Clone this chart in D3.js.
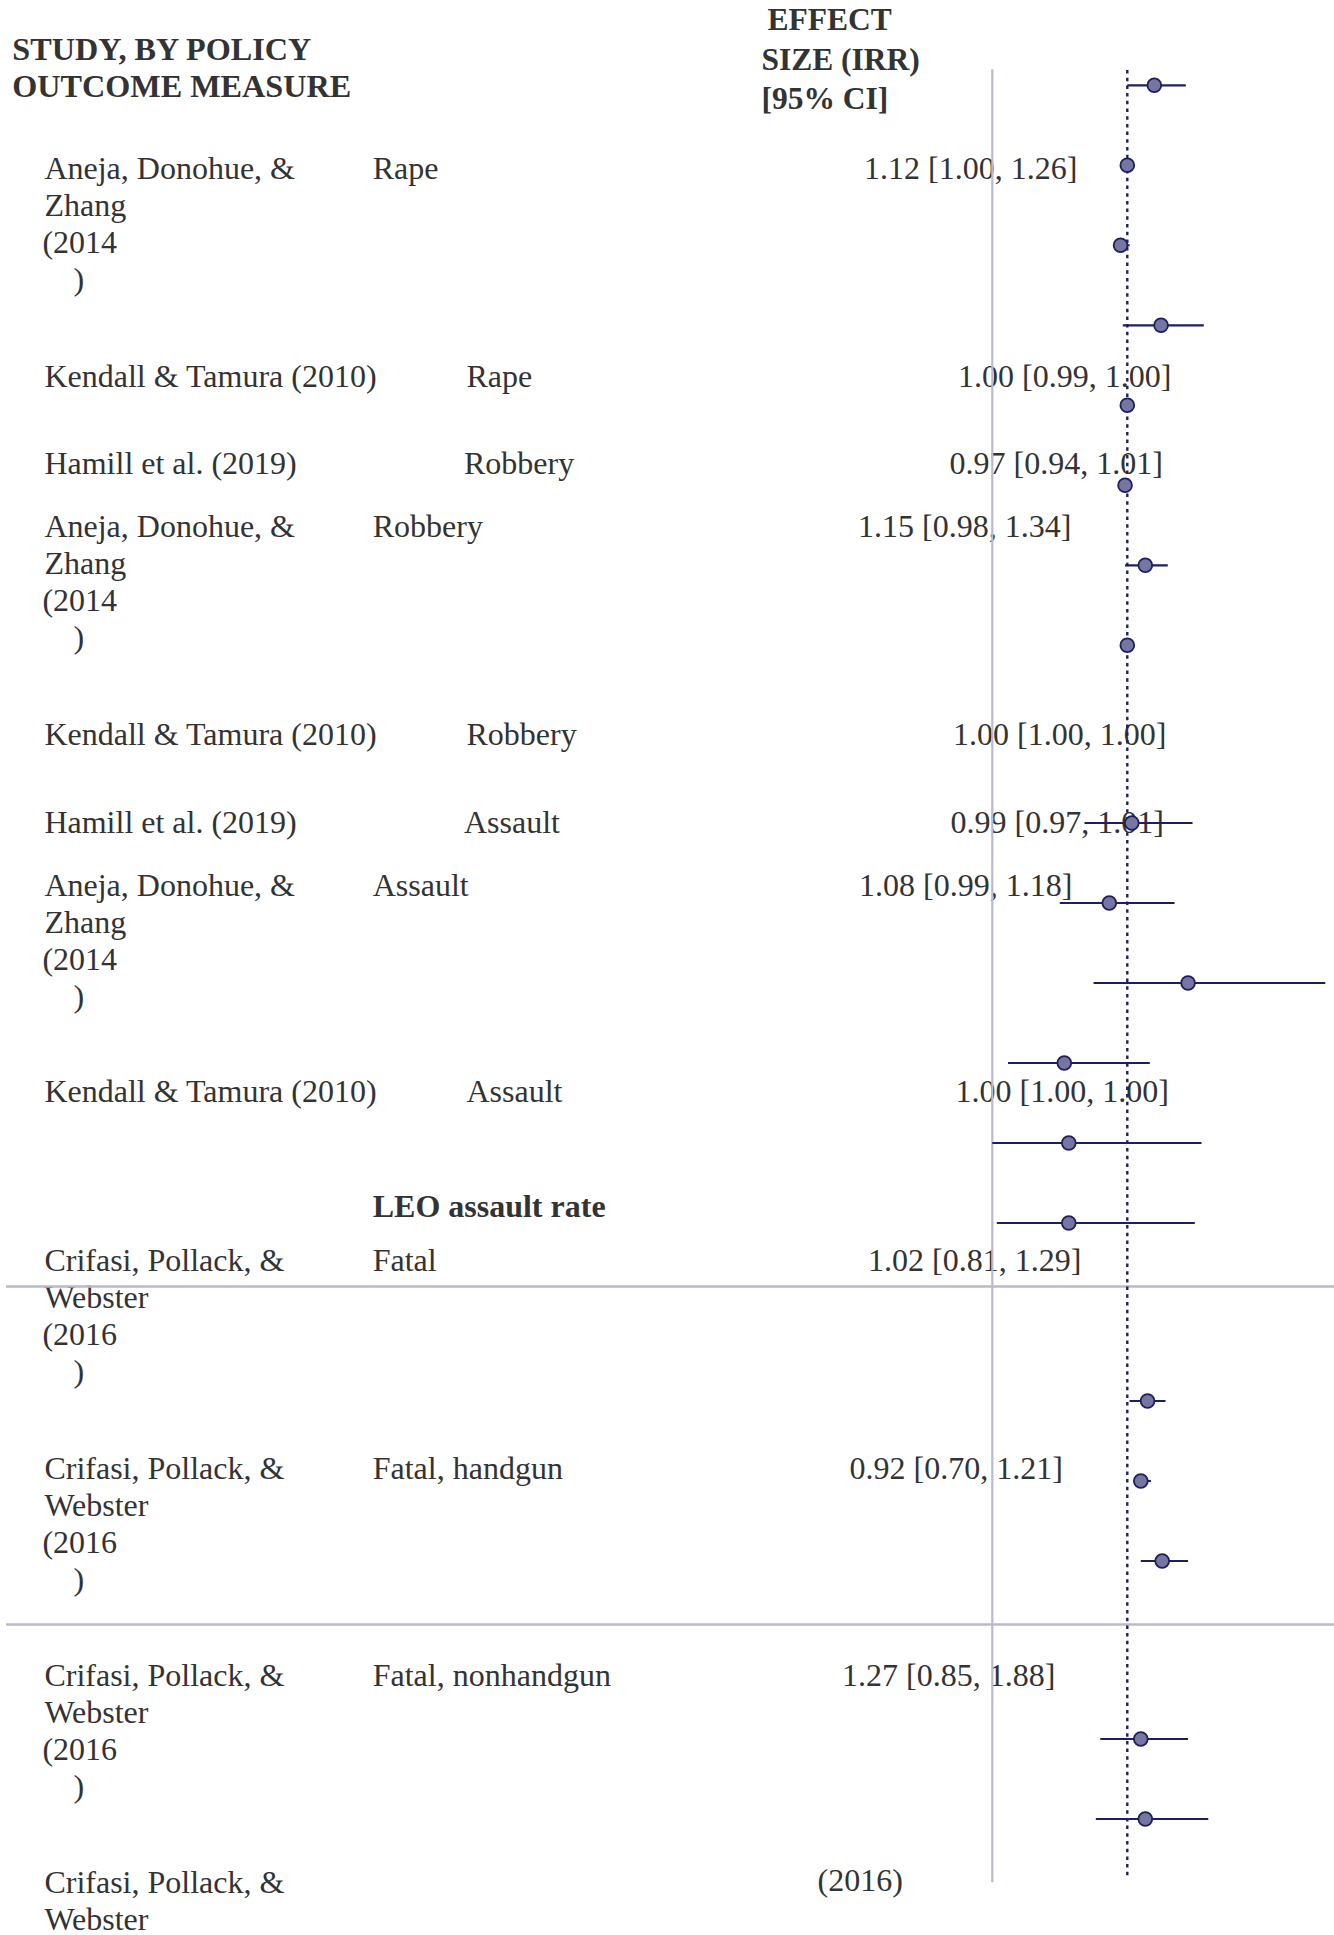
<!DOCTYPE html>
<html>
<head>
<meta charset="utf-8">
<title>Forest plot – effect sizes by policy outcome</title>
<script src="https://cdn.jsdelivr.net/npm/d3@7"></script>
<style>
  html, body { margin: 0; padding: 0; background: #ffffff; }
  svg { display: block; }
  text { font-family: "Liberation Serif", "Times New Roman", serif; fill: #333333; }
</style>
</head>
<body>
<script>
// ---- Data ----------------------------------------------------------------
// Study rows with a printed effect estimate (one per text row)
const rowStudies = [
  "Aneja, Donohue, & Zhang (2014)",
  "Kendall & Tamura (2010)",
  "Hamill et al. (2019)",
  "Aneja, Donohue, & Zhang (2014)",
  "Kendall & Tamura (2010)",
  "Hamill et al. (2019)",
  "Aneja, Donohue, & Zhang (2014)",
  "Kendall & Tamura (2010)",
  "Crifasi, Pollack, & Webster (2016)",
  "Crifasi, Pollack, & Webster (2016)",
  "Crifasi, Pollack, & Webster (2016)",
  "Crifasi, Pollack, & Webster (2016)"
];
const rowOutcomes = [
  "Rape", "Rape", "Robbery", "Robbery", "Robbery", "Assault",
  "Assault", "Assault", "Fatal", "Fatal, handgun", "Fatal, nonhandgun", ""
];
const sectionTitles = ["LEO assault rate"];

// Incidence rate ratios and 95% confidence limits, one entry per marker
const estimate = [1.12, 1.00, 0.97, 1.15, 1.00, 0.99, 1.08, 1.00, 1.02, 0.92, 1.27,
                  0.72, 0.74, 0.74, 1.09, 1.06, 1.155, 1.06, 1.08];
const ciLower  = [1.00, 0.99, 0.94, 0.98, 1.00, 0.97, 0.99, 1.00, 0.81, 0.70, 0.85,
                  0.47, 0.40, 0.42, 1.01, 1.04, 1.06, 0.88, 0.86];
const ciUpper  = [1.26, 1.00, 1.01, 1.34, 1.00, 1.01, 1.18, 1.00, 1.29, 1.21, 1.88,
                  1.10, 1.33, 1.30, 1.17, 1.105, 1.27, 1.27, 1.36];
const labelledCount = 11;          // markers whose value is printed in the table
const nullValue = 1;               // IRR of no effect
const xDomain = [0.4, 1.9];

// ---- Layout ----------------------------------------------------------------
const W = 1334, H = 1935;
const fontSize = 32;
const lineGap = 37;

// baselines and column starts for each table row
const textLayout = [
  { y: 179.3, ox: 372.7, vx: 864.0 },
  { y: 386.7, ox: 466.5, vx: 958.0 },
  { y: 474.0, ox: 464.0, vx: 949.5 },
  { y: 537.0, ox: 372.7, vx: 858.0 },
  { y: 744.5, ox: 466.5, vx: 953.0 },
  { y: 833.0, ox: 464.0, vx: 950.5 },
  { y: 896.0, ox: 372.7, vx: 859.0 },
  { y: 1102.0, ox: 466.5, vx: 955.5 },
  { y: 1271.0, ox: 372.7, vx: 868.0 },
  { y: 1479.0, ox: 372.7, vx: 849.5 },
  { y: 1686.0, ox: 372.7, vx: 842.0 },
  { y: 1893.0, ox: 372.7, vx: 817.5 }
];
// marker panels: first marker index and vertical start of each panel
const panels = [
  { first: 0, top: 85.3 },
  { first: 8, top: 823.0 },
  { first: 14, top: 1401.0 },
  { first: 17, top: 1739.0 }
];
const rowStep = 80;

const svg = d3.select("body").append("svg")
  .attr("width", W).attr("height", H)
  .attr("viewBox", `0 0 ${W} ${H}`);

const x = d3.scaleLinear().domain(xDomain).range([992.3, 1329.8]);
const step = d3.scaleLinear().domain([0, 1]).range([0, rowStep]);
function y(i) {
  let p = panels[0];
  panels.forEach(q => { if (i >= q.first) p = q; });
  return p.top + step(i - p.first);
}

const fmt = d3.format(".2f");
const lineColor = "#b9b9cf";
const navy = "#1e1f5c";
const dotFill = "#7676a2";

// ---- Column headers --------------------------------------------------------
const head = svg.append("g").attr("font-weight", "bold");
head.append("text").attr("x", 12.3).attr("y", 60).attr("font-size", 32.2).text("STUDY, BY POLICY");
head.append("text").attr("x", 12.3).attr("y", 97).attr("font-size", 32.2).text("OUTCOME MEASURE");
head.append("text").attr("x", 767.5).attr("y", 30).attr("font-size", 31.5).text("EFFECT");
head.append("text").attr("x", 761.4).attr("y", 70).attr("font-size", 31.5).text("SIZE (IRR)");
head.append("text").attr("x", 761.4).attr("y", 109).attr("font-size", 31.5).text("[95% CI]");

// ---- Table rows ------------------------------------------------------------
// author lists of three names wrap in the narrow study column
function studyLines(name) {
  const m = name.match(/^(.*, &) (\S+) (\(\d{4})(\))$/);
  if (!m) return [{ t: name, dx: 0 }];
  return [{ t: m[1], dx: 0 }, { t: m[2], dx: 0 }, { t: m[3], dx: -2 }, { t: m[4], dx: 29 }];
}

const rows = svg.append("g").attr("font-size", fontSize);
rowStudies.forEach((name, i) => {
  const L = textLayout[i];
  let lines = studyLines(name);
  let tail = null;
  if (i === rowStudies.length - 1) {      // last row: year set apart in the effect column
    tail = lines[2].t + lines[3].t;
    lines = lines.slice(0, 2);
  }
  lines.forEach((ln, k) => {
    rows.append("text").attr("x", 44.4 + ln.dx).attr("y", L.y + k * lineGap).text(ln.t);
  });
  if (rowOutcomes[i]) rows.append("text").attr("x", L.ox).attr("y", L.y).text(rowOutcomes[i]);
  if (i < labelledCount) {
    rows.append("text").attr("x", L.vx).attr("y", L.y)
      .text(`${fmt(estimate[i])} [${fmt(ciLower[i])}, ${fmt(ciUpper[i])}]`);
  } else if (tail) {
    rows.append("text").attr("x", L.vx).attr("y", L.y - 2).text(tail);
  }
});
rows.append("text").attr("x", 372.7).attr("y", 1217)
  .attr("font-weight", "bold").text(sectionTitles[0]);

// ---- Frame lines -----------------------------------------------------------
const frame = svg.append("g").attr("stroke", lineColor).attr("fill", "none");
frame.append("line").attr("x1", 6).attr("x2", W).attr("y1", 1286.5).attr("y2", 1286.5).attr("stroke-width", 2.5);
frame.append("line").attr("x1", 6).attr("x2", W).attr("y1", 1624.5).attr("y2", 1624.5).attr("stroke-width", 2.5);
frame.append("line").attr("x1", x(xDomain[0])).attr("x2", x(xDomain[0]))
  .attr("y1", 69.3).attr("y2", 1882.3).attr("stroke-width", 2.2);

// reference line at IRR = 1
svg.append("line")
  .attr("x1", x(nullValue)).attr("x2", x(nullValue))
  .attr("y1", 70).attr("y2", 1877)
  .attr("stroke", navy).attr("stroke-width", 2.4)
  .attr("stroke-dasharray", "3.5,4.2");

// ---- Estimates with confidence intervals ------------------------------------
const idx = d3.range(estimate.length);
const marks = svg.append("g");
marks.selectAll("line.ci").data(idx).join("line")
  .attr("class", "ci")
  .attr("x1", i => x(ciLower[i])).attr("x2", i => x(ciUpper[i]))
  .attr("y1", i => y(i)).attr("y2", i => y(i))
  .attr("stroke", navy).attr("stroke-width", 2.2);
marks.selectAll("circle").data(idx).join("circle")
  .attr("cx", i => x(estimate[i])).attr("cy", i => y(i))
  .attr("r", 6.9)
  .attr("fill", dotFill).attr("stroke", navy).attr("stroke-width", 1.8);
</script>
</body>
</html>
